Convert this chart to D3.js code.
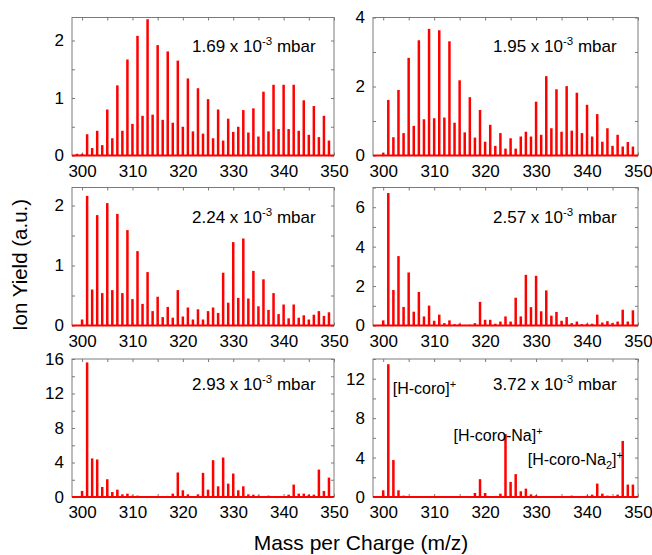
<!DOCTYPE html>
<html>
<head>
<meta charset="utf-8">
<script src="https://cdn.jsdelivr.net/npm/d3@7"></script>
<style>
  body { margin: 0; background: #fff; }
  svg { display: block; }
  text { font-family: "Liberation Sans", Arial, Helvetica, sans-serif; fill: #000; }
</style>
</head>
<body>
<svg id="chart" width="652" height="555"></svg>
<script>
// m/z channels (one bar per integer mass)
const masses = [299,300,301,302,303,304,305,306,307,308,309,310,311,312,313,314,315,316,317,318,319,320,
  321,322,323,324,325,326,327,328,329,330,331,332,333,334,335,336,337,338,339,340,341,342,343,344,345,346,347,348,349];

// Ion yield (a.u.) per mass, one array per pressure
const yield169 = [0.03,0.03,0.37,0.13,0.43,0.18,0.80,0.30,1.22,0.43,1.67,0.55,2.08,0.69,2.37,0.71,1.92,0.62,1.81,0.57,1.65,0.50,
  1.34,0.42,1.17,0.38,0.98,0.30,0.80,0.26,0.64,0.41,0.50,0.79,0.40,0.82,0.33,1.11,0.42,1.23,0.46,1.23,0.46,1.23,0.43,0.96,0.36,0.86,0.32,0.69,0.26];
const yield195 = [0.00,0.08,1.61,0.53,1.90,0.65,2.83,0.86,3.34,1.05,3.67,1.08,3.63,1.10,3.31,0.95,2.18,0.67,1.69,0.52,1.32,0.40,
  0.89,0.28,0.65,0.20,0.50,0.20,0.55,0.69,0.55,1.56,0.60,2.30,0.79,1.92,0.69,2.01,0.72,1.82,0.65,1.47,0.55,1.20,0.40,0.79,0.28,0.60,0.26,0.39,0.26];
const yield224 = [0.00,0.10,2.16,0.60,1.84,0.54,2.04,0.59,1.86,0.54,1.59,0.44,1.24,0.36,0.89,0.24,0.48,0.14,0.31,0.13,0.59,0.15,
  0.30,0.10,0.27,0.10,0.24,0.30,0.21,0.88,0.38,1.39,0.46,1.45,0.45,0.91,0.32,0.77,0.26,0.54,0.19,0.35,0.12,0.35,0.13,0.17,0.10,0.18,0.24,0.16,0.22];
const yield257 = [0.00,0.26,6.72,1.80,3.52,0.94,2.69,0.70,1.70,0.46,1.01,0.24,0.55,0.12,0.26,0.07,0.09,0.03,0.04,0.12,1.20,0.29,
  0.29,0.09,0.20,0.46,0.20,1.41,0.46,2.57,0.93,2.52,0.72,1.78,0.50,0.69,0.24,0.43,0.12,0.20,0.07,0.09,0.09,0.55,0.15,0.22,0.12,0.20,0.80,0.20,0.77];
const yield293 = [0.00,0.70,15.6,4.47,4.35,1.16,2.06,0.58,0.85,0.31,0.39,0.16,0.16,0.08,0.08,0.05,0.12,0.12,0.12,0.39,2.84,0.78,
  0.31,0.12,0.31,2.80,0.85,4.27,1.24,4.58,1.55,2.72,0.78,1.24,0.31,0.27,0.16,0.12,0.16,0.08,0.08,0.12,0.27,1.44,0.39,0.39,0.27,0.27,3.18,0.70,2.25];
const yield372 = [0.00,0.68,13.47,3.75,0.68,0.14,0.10,0.04,0.03,0.03,0.03,0.03,0.03,0.03,0.03,0.03,0.10,0.10,0.05,0.41,1.81,0.41,
  0.10,0.07,0.34,6.38,1.53,2.32,0.58,0.85,0.27,0.17,0.07,0.05,0.05,0.05,0.05,0.05,0.14,0.05,0.05,0.14,0.24,1.36,0.34,0.14,0.10,0.24,5.69,1.26,1.26];

const pressures = ["1.69", "1.95", "2.24", "2.57", "2.93", "3.72"];
const series = [yield169, yield195, yield224, yield257, yield293, yield372];
const yMax = [2.4, 4, 2.3, 7, 16, 14];
const yLabelStep = [1, 2, 1, 2, 4, 4];
const yTickStep = [0.5, 1, 0.5, 1, 2, 2];

const xLabels = [300, 310, 320, 330, 340, 350];
const xTicks = [300, 305, 310, 315, 320, 325, 330, 335, 340, 345, 350];
const xDomain = [298, 350];

// species labels in the last panel
const speciesMass = [301, 324, 347];

const svg = d3.select("#chart");

// panel frames: columns (x extents) and rows (y extents)
const cols = [[72, 334], [373, 638]];
const rows = [[17.5, 155.5], [187.5, 325.5], [359, 497]];
const pressureBaseline = [52, 223, 390];

const red = "#ff0000";
const frameColor = "#7a7a7a";

function round6(v) { return Math.round(v * 1e6) / 1e6; }

series.forEach((vals, i) => {
  const c = cols[i % 2], r = rows[Math.floor(i / 2)];
  const x = d3.scaleLinear().domain(xDomain).range(c);
  const y = d3.scaleLinear().domain([0, yMax[i]]).range([r[1], r[0]]);
  const g = svg.append("g");

  const yTicks = d3.range(0, yMax[i] + 1e-9, yTickStep[i]).map(round6);
  const isLabel = v => Math.abs(v / yLabelStep[i] - Math.round(v / yLabelStep[i])) < 1e-6;

  // frame
  g.append("rect")
    .attr("x", c[0]).attr("y", r[0])
    .attr("width", c[1] - c[0]).attr("height", r[1] - r[0])
    .attr("fill", "none").attr("stroke", frameColor).attr("stroke-width", 1);

  // axes with inward ticks
  const axB = d3.axisBottom(x).tickValues(xTicks).tickSizeInner(-3).tickSizeOuter(0).tickPadding(9)
    .tickFormat(d => xLabels.includes(d) ? d : "");
  const axT = d3.axisTop(x).tickValues(xTicks).tickSizeInner(-3).tickSizeOuter(0).tickFormat("");
  const axL = d3.axisLeft(y).tickValues(yTicks).tickSizeInner(-3).tickSizeOuter(0).tickPadding(8)
    .tickFormat(d => isLabel(d) ? d3.format("~g")(d) : "");
  const axR = d3.axisRight(y).tickValues(yTicks).tickSizeInner(-3).tickSizeOuter(0).tickFormat("");

  const gb = g.append("g").attr("transform", `translate(0,${r[1]})`).call(axB);
  const gt = g.append("g").attr("transform", `translate(0,${r[0]})`).call(axT);
  const gl = g.append("g").attr("transform", `translate(${c[0]},0)`).call(axL);
  const gr = g.append("g").attr("transform", `translate(${c[1]},0)`).call(axR);
  [gb, gt, gl, gr].forEach(a => {
    a.select(".domain").remove();
    a.selectAll(".tick line").attr("stroke", frameColor);
    a.selectAll(".tick text").attr("font-size", 17).attr("fill", "#000")
      .attr("font-family", '"Liberation Sans", Arial, sans-serif');
  });

  // bars
  g.append("g").selectAll("rect").data(masses.map((m, k) => ({ m, v: vals[k] })))
    .join("rect")
    .attr("x", d => x(d.m) - 1.25)
    .attr("width", 2.5)
    .attr("y", d => y(d.v))
    .attr("height", d => y(0) - y(d.v))
    .attr("fill", red);

  // red baseline
  g.append("line")
    .attr("x1", c[0]).attr("x2", c[1])
    .attr("y1", y(0)).attr("y2", y(0))
    .attr("stroke", red).attr("stroke-width", 2);

  // pressure label
  const t = g.append("text")
    .attr("x", c[0] + 120).attr("y", pressureBaseline[Math.floor(i / 2)])
    .attr("font-size", 17);
  t.append("tspan").text(pressures[i] + " x 10");
  t.append("tspan").attr("dy", -7).attr("font-size", 11.5).text("-3");
  t.append("tspan").attr("dy", 7).text(" mbar");

  // species labels on the highest pressure spectrum
  if (i === 5) {
    const lab = [
      { x: x(speciesMass[0]) + 4.5, y: 394, parts: [["[H-coro]", 0], ["+", -6]] },
      { x: x(speciesMass[1]) - 52, y: 441, parts: [["[H-coro-Na]", 0], ["+", -6]] },
      { x: x(speciesMass[2]) - 95, y: 465, parts: [["[H-coro-Na", 0], ["2", 4], ["]", 0], ["+", -6]] }
    ];
    lab.forEach(L => {
      const tt = g.append("text").attr("x", L.x).attr("y", L.y).attr("font-size", 16);
      let prev = 0;
      L.parts.forEach(([s, off]) => {
        tt.append("tspan").attr("dy", off - prev).attr("font-size", off === 0 ? 16 : 11).text(s);
        prev = off;
      });
    });
  }
});

// axis titles
svg.append("text")
  .attr("x", 361).attr("y", 550)
  .attr("text-anchor", "middle").attr("font-size", 21)
  .text("Mass per Charge (m/z)");

svg.append("text")
  .attr("transform", "translate(27,265) rotate(-90)")
  .attr("text-anchor", "middle").attr("font-size", 20.5)
  .text("Ion Yield (a.u.)");
</script>
</body>
</html>
